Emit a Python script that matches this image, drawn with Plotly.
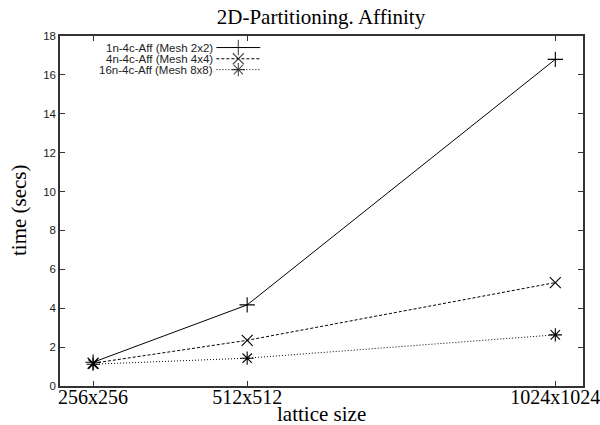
import plotly.graph_objects as go

categories = ["256x256", "512x512", "1024x1024"]
lattice_n = [256, 512, 1024]
series_names = ["1n-4c-Aff (Mesh 2x2)", "4n-4c-Aff (Mesh 4x4)", "16n-4c-Aff (Mesh 8x8)"]
s1 = [1.22, 4.17, 16.8]
s2 = [1.17, 2.35, 5.32]
s3 = [1.12, 1.43, 2.63]
y_ticks = [0, 2, 4, 6, 8, 10, 12, 14, 16, 18]

styles = [
    dict(dash="solid", symbol="cross-thin"),
    dict(dash="3px,2px", symbol="x-thin"),
    dict(dash="1px,2px", symbol="asterisk"),
]

fig = go.Figure()
for name, ys, st in zip(series_names, [s1, s2, s3], styles):
    fig.add_trace(go.Scatter(
        x=lattice_n, y=ys, name=name, mode="lines+markers",
        line=dict(color="black", width=1, dash=st["dash"]),
        marker=dict(symbol=st["symbol"], size=11, color="black",
                    line=dict(color="black", width=1.1)),
        showlegend=False, xaxis="x", yaxis="y"))

# custom gnuplot-style key (text left, sample right)
key_x_text = 0.297
key_x0, key_x1 = 0.299, 0.383
key_rows = [0.967, 0.935, 0.904]
for name, st, ky in zip(series_names, styles, key_rows):
    fig.add_trace(go.Scatter(
        x=[key_x0, (key_x0 + key_x1) / 2, key_x1], y=[ky, ky, ky],
        mode="lines+markers",
        line=dict(color="black", width=1, dash=st["dash"]),
        marker=dict(symbol=st["symbol"], size=[0, 11, 0], color="black",
                    line=dict(color="black", width=1.1)),
        showlegend=False, hoverinfo="skip", xaxis="x2", yaxis="y2"))
    fig.add_annotation(x=key_x_text, y=ky, xref="paper", yref="paper",
                       text=name, showarrow=False, xanchor="right", yanchor="middle",
                       font=dict(family="Liberation Sans", size=11.5, color="#222"))

# axis titles as annotations (gnuplot placement)
fig.add_annotation(x=0.5, y=-0.043, xref="paper", yref="paper", text="lattice size",
                   showarrow=False, xanchor="center", yanchor="top", borderpad=0,
                   font=dict(family="Liberation Serif", size=21, color="black"))
fig.add_annotation(x=-0.077, y=0.502, xref="paper", yref="paper", text="time (secs)",
                   showarrow=False, xanchor="center", yanchor="middle", textangle=-90,
                   font=dict(family="Liberation Serif", size=21, color="black"))

fig.update_layout(
    width=600, height=425,
    margin=dict(l=60, r=17, t=36, b=39, autoexpand=False),
    plot_bgcolor="white", paper_bgcolor="white",
    title=dict(text="2D-Partitioning. Affinity", x=0.535, xanchor="center",
               xref="container", yref="container",
               y=0.962, yanchor="middle",
               font=dict(family="Liberation Serif", size=21, color="black")),
    xaxis=dict(range=[201, 1070], tickvals=lattice_n, ticktext=categories,
               ticks="inside", ticklen=5, tickcolor="#333", mirror="ticks",
               showline=True, linecolor="#333", linewidth=1.5, showgrid=False,
               zeroline=False, automargin=False, ticklabeloverflow="allow",
               ticklabelstandoff=-8,
               tickfont=dict(family="Liberation Serif", size=20, color="black")),
    yaxis=dict(range=[0, 18], tickvals=y_ticks, ticks="inside", ticklen=5,
               tickcolor="#333", mirror="ticks", showline=True, linecolor="#333",
               linewidth=1.5, showgrid=False, zeroline=False, automargin=False,
               tickfont=dict(family="Liberation Sans", size=11.5, color="#222")),
    xaxis2=dict(range=[0, 1], overlaying="x", visible=False, fixedrange=True),
    yaxis2=dict(range=[0, 1], overlaying="y", visible=False, fixedrange=True),
)

fig.write_html("out.html", config={"displayModeBar": False},
               post_script="document.body.style.margin='0';document.body.style.overflow='hidden';")
